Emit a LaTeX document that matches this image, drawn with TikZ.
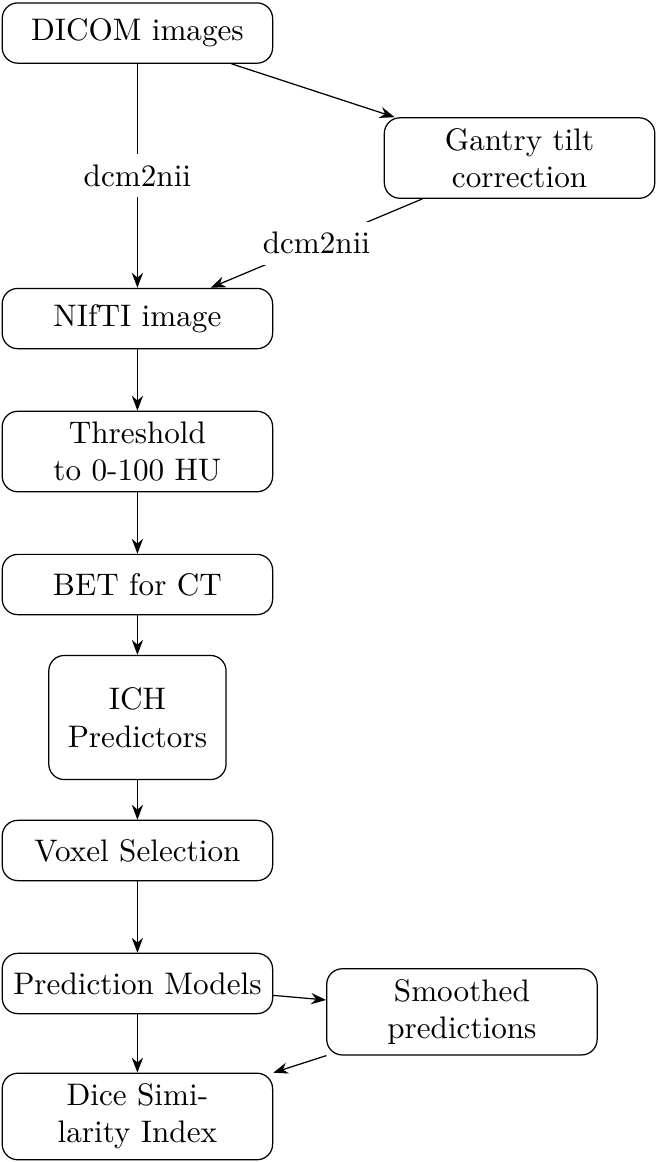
\documentclass[tikz,border=0pt]{standalone}
\usepackage{tikz}
\usetikzlibrary{positioning,arrows.meta}

\begin{document}
\begin{tikzpicture}[
      node distance=1.5cm, on grid,
      box/.style={draw, rounded corners=5pt, align=center, minimum width=3.05cm, minimum height=0.68cm},
      lab/.style={fill=white},
      arr/.style={-{Stealth}}]
    \useasboundingbox (-44.1pt,10.6pt) rectangle (166.7pt,-362.3pt);
    \node[box] (dicom) {DICOM images};
    \node[box, below right=1.41cm and 4.31cm of dicom] (gantry) {Gantry tilt\\correction};
    \node[box, below=3.22cm of dicom] (nifti) {NIfTI image};
    \node[box, below=of nifti] (thresh) {Threshold\\to 0-100 HU};
    \node[box, below=of thresh] (bet) {BET for CT};
    \node[box, below=of bet, minimum width=2cm, minimum height=1.4cm] (ich) {ICH\\Predictors};
    \node[box, below=of ich] (voxel) {Voxel Selection};
    \node[box, below=of voxel] (pred) {Prediction Models};
    \node[box, below right=0.32cm and 3.66cm of pred] (smooth) {Smoothed\\predictions};
    \node[box, below=of pred] (dice) {Dice Simi-\\larity Index};
    \draw[arr] (dicom) -- node[lab] {dcm2nii} (nifti);
    \draw[arr] (dicom) -- (gantry);
    \draw[arr] (gantry) -- node[lab] {dcm2nii} (nifti);
    \draw[arr] (nifti) -- (thresh);
    \draw[arr] (thresh) -- (bet);
    \draw[arr] (bet) -- (ich);
    \draw[arr] (ich) -- (voxel);
    \draw[arr] (voxel) -- (pred);
    \draw[arr] (pred) -- (smooth);
    \draw[arr] (smooth) -- (dice);
    \draw[arr] (pred) -- (dice);
  \end{tikzpicture}
\end{document}
